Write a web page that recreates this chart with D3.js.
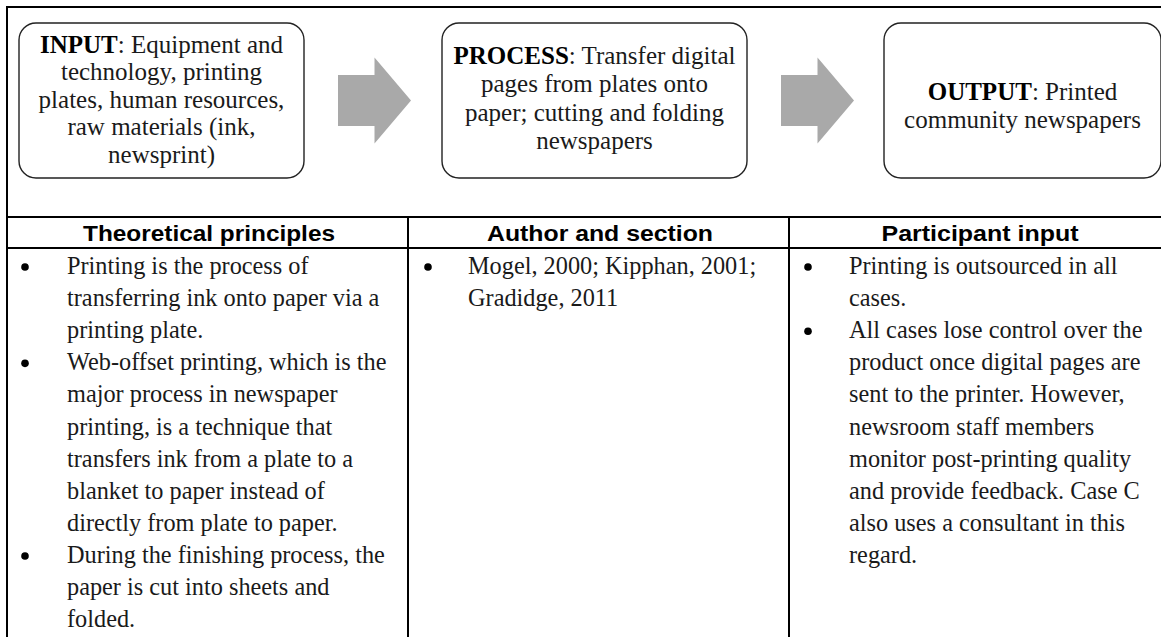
<!DOCTYPE html>
<html><head><meta charset="utf-8">
<script src="https://cdn.jsdelivr.net/npm/d3@7/dist/d3.min.js"></script>
<style>html,body{margin:0;padding:0;background:#fff;overflow:hidden}</style>
</head><body>
<svg id="c" width="1161" height="637"></svg>
<script>
// ---- data ----
const stageLabels = ["INPUT", "PROCESS", "OUTPUT"];
const stageLines = [
  [": Equipment and", "technology, printing", "plates, human resources,", "raw materials (ink,", "newsprint)"],
  [": Transfer digital", "pages from plates onto", "paper; cutting and folding", "newspapers"],
  [": Printed", "community newspapers"]
];
const columnHeaders = ["Theoretical principles", "Author and section", "Participant input"];
const theoryBullets = [
  ["Printing is the process of", "transferring ink onto paper via a", "printing plate."],
  ["Web-offset printing, which is the", "major process in newspaper", "printing, is a technique that", "transfers ink from a plate to a", "blanket to paper instead of", "directly from plate to paper."],
  ["During the finishing process, the", "paper is cut into sheets and", "folded."]
];
const authorBullets = [
  ["Mogel, 2000; Kipphan, 2001;", "Gradidge, 2011"]
];
const participantBullets = [
  ["Printing is outsourced in all", "cases."],
  ["All cases lose control over the", "product once digital pages are", "sent to the printer. However,", "newsroom staff members", "monitor post-printing quality", "and provide feedback. Case C", "also uses a consultant in this", "regard."]
];
const columnBullets = [theoryBullets, authorBullets, participantBullets];

// ---- layout ----
const svg = d3.select("#c");
const serif = "'Liberation Serif','Times New Roman',serif";
const sans = "'Liberation Sans',Arial,sans-serif";

// frame
const frame = {x: 7, y: 7, right: 1172, bottom: 660, split: 217, head: 248};
const colEdges = [7, 408, 789, 1168];
const colX = d3.scaleOrdinal().domain(columnHeaders).range([0,1,2]);

const g = svg.append("g");
g.append("rect").attr("x", frame.x).attr("y", frame.y)
  .attr("width", frame.right - frame.x).attr("height", frame.bottom - frame.y)
  .attr("fill", "none").attr("stroke", "#000").attr("stroke-width", 2);
g.append("line").attr("x1", frame.x).attr("x2", frame.right).attr("y1", frame.split).attr("y2", frame.split)
  .attr("stroke", "#000").attr("stroke-width", 2);
g.append("line").attr("x1", frame.x).attr("x2", frame.right).attr("y1", frame.head).attr("y2", frame.head)
  .attr("stroke", "#000").attr("stroke-width", 2);
g.selectAll("line.col").data(colEdges.slice(1, 3)).join("line").attr("class", "col")
  .attr("x1", d => d).attr("x2", d => d).attr("y1", frame.split).attr("y2", frame.bottom)
  .attr("stroke", "#000").attr("stroke-width", 2);

// stage boxes
const boxes = [
  {x0: 19, x1: 304, base: [52.5, 80, 107.5, 135, 162.5]},
  {x0: 442, x1: 747, base: [63.5, 92, 120.5, 149]},
  {x0: 884, x1: 1161, base: [99.5, 127.5]}
];
const boxTop = 23, boxBottom = 178;
const bg = svg.selectAll("g.box").data(stageLabels).join("g").attr("class", "box");
bg.append("rect")
  .attr("x", (d, i) => boxes[i].x0).attr("y", boxTop)
  .attr("width", (d, i) => boxes[i].x1 - boxes[i].x0).attr("height", boxBottom - boxTop)
  .attr("rx", 17).attr("ry", 17)
  .attr("fill", "#fff").attr("stroke", "#222").attr("stroke-width", 1.4);
bg.each(function(label, i) {
  const b = boxes[i];
  const cx = (b.x0 + b.x1) / 2;
  const t = d3.select(this).selectAll("text").data(stageLines[i]).join("text")
    .attr("x", cx).attr("y", (d, j) => b.base[j])
    .attr("text-anchor", "middle")
    .attr("font-family", serif).attr("font-size", 25).attr("fill", "#1a1a1a");
  t.each(function(line, j) {
    const el = d3.select(this);
    if (j === 0) {
      el.append("tspan").attr("font-weight", "bold").attr("fill", "#000").text(label);
    }
    el.append("tspan").text(line);
  });
});

// arrows
const arrows = [338, 781];
const arrowCy = 100.5;
const ax = d3.scaleLinear().domain([0, 1]).range([0, 73]);
svg.selectAll("path.arrow").data(arrows).join("path").attr("class", "arrow")
  .attr("d", x0 => {
    const p = d3.path();
    const sh = 25.5, hh = 43, sl = ax(0.5), tl = ax(1);
    p.moveTo(x0, arrowCy - sh);
    p.lineTo(x0 + sl, arrowCy - sh);
    p.lineTo(x0 + sl, arrowCy - hh);
    p.lineTo(x0 + tl, arrowCy);
    p.lineTo(x0 + sl, arrowCy + hh);
    p.lineTo(x0 + sl, arrowCy + sh);
    p.lineTo(x0, arrowCy + sh);
    p.closePath();
    return p.toString();
  })
  .attr("fill", "#a9a9a9");

// headers
const headerWidths = [252, 226, 197];
svg.selectAll("text.hdr").data(columnHeaders).join("text").attr("class", "hdr")
  .attr("x", (d, i) => (colEdges[i] + colEdges[i + 1]) / 2 + 1.5)
  .attr("y", 241)
  .attr("text-anchor", "middle")
  .attr("font-family", sans).attr("font-weight", "bold").attr("font-size", 22)
  .attr("textLength", (d, i) => headerWidths[i]).attr("lengthAdjust", "spacingAndGlyphs")
  .attr("fill", "#000")
  .text(d => d);

// table bullets
const lineY = d3.scaleLinear().domain([0, 11]).range([274, 627.2]);
const bulletOffset = [18, 20, 19];
const textOffset = [60, 60, 60];
columnBullets.forEach((bullets, ci) => {
  const col = svg.append("g");
  let idx = 0;
  bullets.forEach(lines => {
    col.append("circle")
      .attr("cx", colEdges[ci] + bulletOffset[ci])
      .attr("cy", lineY(idx) - 7)
      .attr("r", 3.8).attr("fill", "#000");
    lines.forEach(line => {
      col.append("text")
        .attr("x", colEdges[ci] + textOffset[ci])
        .attr("y", lineY(idx))
        .attr("font-family", serif).attr("font-size", 24.3).attr("fill", "#1a1a1a")
        .text(line);
      idx++;
    });
  });
});
</script>
</body></html>
